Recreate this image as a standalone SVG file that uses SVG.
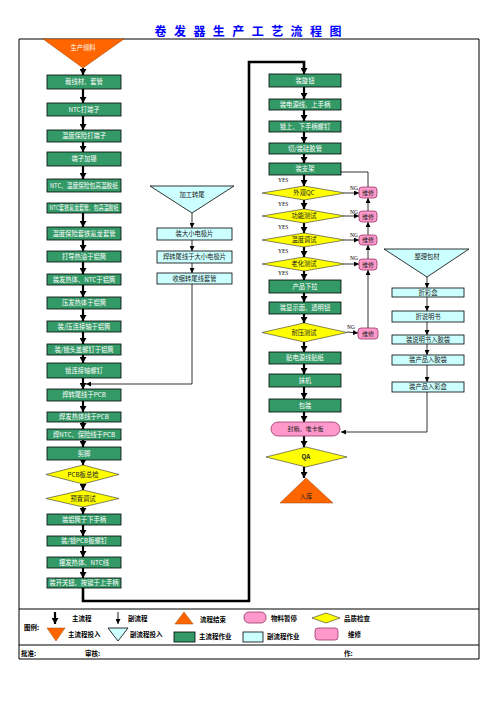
<svg xmlns="http://www.w3.org/2000/svg" width="496" height="702" viewBox="0 0 496 702">
<style>
text{font-family:"Noto Sans CJK SC","Noto Sans",sans-serif;}
.m{fill:#339966;stroke:#000;stroke-width:0.8;}
.mt{fill:#fff;font-size:6.3px;text-anchor:middle;}
.s{fill:#ccffff;stroke:#000;stroke-width:0.8;}
.st{fill:#222;font-size:6.3px;text-anchor:middle;}
.q{fill:#ffff00;stroke:#333;stroke-width:0.6;}
.qt{fill:#222;font-size:6.3px;text-anchor:middle;}
.p{fill:#ff99cc;stroke:#993366;stroke-width:0.8;}
.pt{fill:#222;font-size:6px;text-anchor:middle;}
.o{fill:#ff6600;stroke:#994400;stroke-width:0.5;}
.lbl{font-family:"Liberation Serif",serif;font-size:5.5px;fill:#000;}
.lg{font-size:6.5px;font-weight:bold;fill:#000;}
.fr{stroke:#000;stroke-width:1;fill:none;}
.ma{stroke:#000;stroke-width:2.2;fill:none;marker-end:url(#ah);}
.ta{stroke:#000;stroke-width:0.8;fill:none;marker-end:url(#at);}
.rl{stroke:#000;stroke-width:2.6;fill:none;}
</style>
<defs>
<marker id="ah" markerUnits="userSpaceOnUse" markerWidth="7" markerHeight="7" refX="6" refY="3.5" orient="auto"><path d="M0,0 L6,3.5 L0,7 z" fill="#000"/></marker>
<marker id="at" markerUnits="userSpaceOnUse" markerWidth="5" markerHeight="5" refX="5" refY="2.5" orient="auto"><path d="M0,0 L5,2.5 L0,5 z" fill="#000"/></marker>
</defs>
<rect width="496" height="702" fill="#fff"/>
<text x="248" y="36" font-size="12" font-weight="bold" fill="#0000ff" text-anchor="middle" textLength="187" lengthAdjust="spacing">卷 发 器 生 产 工 艺 流 程 图</text>
<g id="frame">
<line class="fr" x1="19" y1="39" x2="479" y2="39" stroke-width="1.4"/>
<line class="fr" x1="19" y1="39" x2="19" y2="659"/>
<line class="fr" x1="479" y1="39" x2="479" y2="659"/>
<line class="fr" x1="19" y1="609" x2="479" y2="609"/>
<line class="fr" x1="19" y1="645" x2="479" y2="645"/>
<line class="fr" x1="19" y1="659" x2="479" y2="659"/>
</g>
<g id="connectors">
<line class="ma" x1="83" y1="68" x2="83" y2="75"/>
<line class="ma" x1="83" y1="89" x2="83" y2="103"/>
<line class="ma" x1="83" y1="116" x2="83" y2="130"/>
<line class="ma" x1="83" y1="142" x2="83" y2="152"/>
<line class="ma" x1="83" y1="166" x2="83" y2="179"/>
<line class="ma" x1="83" y1="213" x2="83" y2="227"/>
<line class="ma" x1="83" y1="240" x2="83" y2="251"/>
<line class="ma" x1="83" y1="262" x2="83" y2="274"/>
<line class="ma" x1="83" y1="285" x2="83" y2="297"/>
<line class="ma" x1="83" y1="309" x2="83" y2="321"/>
<line class="ma" x1="83" y1="332" x2="83" y2="344"/>
<line class="ma" x1="83" y1="355" x2="83" y2="363"/>
<line class="ma" x1="83" y1="378" x2="83" y2="389"/>
<line class="ma" x1="83" y1="401" x2="83" y2="412"/>
<line class="ma" x1="83" y1="422" x2="83" y2="429"/>
<line class="ma" x1="83" y1="440" x2="83" y2="447"/>
<line class="ma" x1="83" y1="460" x2="83" y2="465"/>
<line class="ma" x1="83" y1="484" x2="83" y2="490"/>
<line class="ma" x1="83" y1="507" x2="83" y2="514"/>
<line class="ma" x1="83" y1="525" x2="83" y2="536"/>
<line class="ma" x1="83" y1="546" x2="83" y2="557"/>
<line class="ma" x1="83" y1="568" x2="83" y2="578"/>
<polyline class="rl" points="83,588 83,601 249,601 249,62 304,62 304,68"/>
<line class="ma" x1="304" y1="66" x2="304" y2="74"/>
<line class="ma" x1="304" y1="87" x2="304" y2="99"/>
<line class="ma" x1="304" y1="110" x2="304" y2="121"/>
<line class="ma" x1="304" y1="132" x2="304" y2="143"/>
<line class="ma" x1="304" y1="154" x2="304" y2="163"/>
<line class="ma" x1="304" y1="175" x2="304" y2="186"/>
<line class="ma" x1="304" y1="200" x2="304" y2="209"/>
<line class="ma" x1="304" y1="223" x2="304" y2="233"/>
<line class="ma" x1="304" y1="247" x2="304" y2="257"/>
<line class="ma" x1="304" y1="271" x2="304" y2="280"/>
<line class="ma" x1="304" y1="293" x2="304" y2="302"/>
<line class="ma" x1="304" y1="314" x2="304" y2="323"/>
<line class="ma" x1="304" y1="342" x2="304" y2="352"/>
<line class="ma" x1="304" y1="364" x2="304" y2="374"/>
<line class="ma" x1="304" y1="387" x2="304" y2="399"/>
<line class="ma" x1="304" y1="412" x2="304" y2="422"/>
<line class="ma" x1="304" y1="436" x2="304" y2="447"/>
<line class="ma" x1="304" y1="467" x2="304" y2="478"/>
<line class="ta" x1="345" y1="193" x2="359" y2="193"/>
<line class="ta" x1="345" y1="216" x2="359" y2="216"/>
<line class="ta" x1="345" y1="240" x2="359" y2="240"/>
<line class="ta" x1="345" y1="264" x2="359" y2="264"/>
<line class="ta" x1="347" y1="332" x2="358" y2="333"/>
<line class="ta" x1="368" y1="328" x2="368" y2="270"/>
<line class="ta" x1="368" y1="259" x2="368" y2="245"/>
<line class="ta" x1="368" y1="235" x2="368" y2="222"/>
<line class="ta" x1="368" y1="211" x2="368" y2="198"/>
<polyline class="ta" points="368,187 368,172 310,172"/>
<line class="ta" x1="192" y1="213" x2="192" y2="228"/>
<line class="ta" x1="192" y1="240" x2="192" y2="251"/>
<line class="ta" x1="192" y1="263" x2="192" y2="273"/>
<polyline class="ta" points="192,284 192,384 86,384"/>
<line class="ta" x1="427" y1="277" x2="427" y2="288"/>
<line class="ta" x1="427" y1="297" x2="427" y2="311"/>
<line class="ta" x1="427" y1="322" x2="427" y2="335"/>
<line class="ta" x1="427" y1="344" x2="427" y2="355"/>
<line class="ta" x1="427" y1="365" x2="427" y2="382"/>
<polyline class="ta" points="427,392 427,432 341,432"/>
</g>
<g id="n-start"><polygon class="o" points="43,39 124,39 83,68"/><text x="83" y="50" class="mt">生产领料</text></g>
<g id="n1"><rect class="m" x="47" y="75" width="74" height="14"/><text x="84" y="84.3" class="mt">裁线材、套管</text></g>
<g id="n2"><rect class="m" x="47" y="103" width="74" height="13"/><text x="84" y="111.8" class="mt">NTC打端子</text></g>
<g id="n3"><rect class="m" x="47" y="130" width="74" height="12"/><text x="84" y="138.3" class="mt">温度保险打端子</text></g>
<g id="n4"><rect class="m" x="47" y="152" width="74" height="14"/><text x="84" y="161.3" class="mt">端子加锡</text></g>
<g id="n5"><rect class="m" x="47" y="179" width="74" height="13"/><text x="84" y="187.8" class="mt" font-size="5.2" textLength="68" lengthAdjust="spacingAndGlyphs">NTC、温度保险包高温胶纸</text></g>
<g id="n6"><rect class="m" x="47" y="203" width="74" height="10"/><text x="84" y="210" class="mt" font-size="4.6" textLength="69" lengthAdjust="spacingAndGlyphs">NTC套铁氟龙套管、包高温胶纸</text></g>
<g id="n7"><rect class="m" x="47" y="227" width="74" height="13"/><text x="84" y="235.8" class="mt">温度保险套铁氟龙套管</text></g>
<g id="n8"><rect class="m" x="47" y="251" width="74" height="11"/><text x="84" y="258.8" class="mt">打导热油于铝筒</text></g>
<g id="n9"><rect class="m" x="47" y="274" width="74" height="11"/><text x="84" y="281.8" class="mt">装发热体、NTC于铝筒</text></g>
<g id="n10"><rect class="m" x="47" y="297" width="74" height="12"/><text x="84" y="305.3" class="mt">压发热体于铝筒</text></g>
<g id="n11"><rect class="m" x="47" y="321" width="74" height="11"/><text x="84" y="328.8" class="mt">装/压连接轴于铝筒</text></g>
<g id="n12"><rect class="m" x="47" y="344" width="74" height="11"/><text x="84" y="351.8" class="mt">装/锁头盖螺钉于铝筒</text></g>
<g id="n13"><rect class="m" x="47" y="363" width="74" height="15"/><text x="84" y="372.8" class="mt">锁连接轴螺钉</text></g>
<g id="n14"><rect class="m" x="47" y="389" width="74" height="12"/><text x="84" y="397.3" class="mt">焊转尾线于PCB</text></g>
<g id="n15"><rect class="m" x="47" y="412" width="74" height="10"/><text x="84" y="419.3" class="mt">焊发热体线于PCB</text></g>
<g id="n16"><rect class="m" x="47" y="429" width="74" height="11"/><text x="84" y="436.8" class="mt">焊NTC、保险线于PCB</text></g>
<g id="n17"><rect class="m" x="47" y="447" width="74" height="13"/><text x="84" y="455.8" class="mt">剪脚</text></g>
<g id="d1"><polygon class="q" points="46,474.5 83,465 119,474.5 83,484"/><text x="83" y="476.8" class="qt">PCB板总检</text></g>
<g id="d2"><polygon class="q" points="46,498.5 83,490 119,498.5 83,507"/><text x="83" y="500.8" class="qt">预置调试</text></g>
<g id="n18"><rect class="m" x="47" y="514" width="74" height="11"/><text x="84" y="521.8" class="mt">装铝筒于下手柄</text></g>
<g id="n19"><rect class="m" x="47" y="536" width="74" height="10"/><text x="84" y="543.3" class="mt">装/锁PCB板螺钉</text></g>
<g id="n20"><rect class="m" x="47" y="557" width="74" height="11"/><text x="84" y="564.8" class="mt">摆发热体、NTC线</text></g>
<g id="n21"><rect class="m" x="47" y="578" width="74" height="10"/><text x="84" y="585.3" class="mt" font-size="5.8">装开关钮、按键于上手柄</text></g>
<g id="s-start"><polygon class="s" points="150,186 234,186 192,213"/><text x="192" y="197" class="st">加工转尾</text></g>
<g id="s1"><rect class="s" x="157" y="228" width="75" height="12"/><text x="194.5" y="236.3" class="st">装大小电极片</text></g>
<g id="s2"><rect class="s" x="157" y="251" width="75" height="12"/><text x="194.5" y="259.3" class="st">焊转尾线于大小电极片</text></g>
<g id="s3"><rect class="s" x="157" y="273" width="75" height="11"/><text x="194.5" y="280.8" class="st">收缩转尾线套管</text></g>
<g id="r1"><rect class="m" x="269" y="74" width="72" height="13"/><text x="305" y="82.8" class="mt">装旋钮</text></g>
<g id="r2"><rect class="m" x="269" y="99" width="72" height="11"/><text x="305" y="106.8" class="mt">装电源线、上手柄</text></g>
<g id="r3"><rect class="m" x="269" y="121" width="72" height="11"/><text x="305" y="128.8" class="mt">锁上、下手柄螺钉</text></g>
<g id="r4"><rect class="m" x="269" y="143" width="72" height="11"/><text x="305" y="150.8" class="mt">切/装硅胶管</text></g>
<g id="r5"><rect class="m" x="269" y="163" width="72" height="12"/><text x="305" y="171.3" class="mt">装支架</text></g>
<g id="q1"><polygon class="q" points="262,193 304,186 345,193 304,200"/><text x="304" y="195.3" class="qt">外观QC</text></g>
<g id="q2"><polygon class="q" points="262,216 304,209 345,216 304,223"/><text x="304" y="218.3" class="qt">功能测试</text></g>
<g id="q3"><polygon class="q" points="262,240 304,233 345,240 304,247"/><text x="304" y="242.3" class="qt">温度调试</text></g>
<g id="q4"><polygon class="q" points="262,264 304,257 345,264 304,271"/><text x="304" y="266.3" class="qt">老化测试</text></g>
<g id="r6"><rect class="m" x="269" y="280" width="72" height="13"/><text x="305" y="288.8" class="mt">产品下拉</text></g>
<g id="r7"><rect class="m" x="269" y="302" width="72" height="12"/><text x="305" y="310.3" class="mt">装显示面、透明钮</text></g>
<g id="q5"><polygon class="q" points="262,332.5 304,323 347,332.5 304,342"/><text x="304" y="334.8" class="qt">耐压测试</text></g>
<g id="r8"><rect class="m" x="269" y="352" width="72" height="12"/><text x="305" y="360.3" class="mt">贴电源线贴纸</text></g>
<g id="r9"><rect class="m" x="269" y="374" width="72" height="13"/><text x="305" y="382.8" class="mt">抹机</text></g>
<g id="r10"><rect class="m" x="269" y="399" width="72" height="13"/><text x="305" y="407.8" class="mt">包装</text></g>
<g id="pk"><rect class="p" x="271" y="422" width="69" height="14" rx="7" stroke="#333"/><text x="305.5" y="431.3" class="pt" font-size="6.3">封箱、堆卡板</text></g>
<g id="qa"><polygon class="q" points="266,457 306,447 347,457 306,467"/><text x="306" y="459.3" class="qt" font-weight="bold" font-family="Liberation Sans">QA</text></g>
<g id="end"><polygon class="o" points="306,478 333,503 280,503"/><text x="306" y="499" class="qt">入库</text></g>
<g id="w1"><rect class="p" x="359" y="187" width="18" height="11" rx="3"/><text x="368" y="194.8" class="pt">维修</text></g>
<g id="w2"><rect class="p" x="359" y="211" width="18" height="11" rx="3"/><text x="368" y="218.8" class="pt">维修</text></g>
<g id="w3"><rect class="p" x="359" y="235" width="18" height="10" rx="3"/><text x="368" y="242.3" class="pt">维修</text></g>
<g id="w4"><rect class="p" x="359" y="259" width="18" height="11" rx="3"/><text x="368" y="266.8" class="pt">维修</text></g>
<g id="w5"><rect class="p" x="358" y="328" width="20" height="11" rx="3"/><text x="368" y="335.8" class="pt">维修</text></g>
<g id="labels">
<text x="278" y="182" class="lbl">YES</text>
<text x="278" y="206" class="lbl">YES</text>
<text x="278" y="229" class="lbl">YES</text>
<text x="278" y="253" class="lbl">YES</text>
<text x="278" y="275" class="lbl">YES</text>
<text x="350" y="190" class="lbl">NG</text>
<text x="350" y="214" class="lbl">NG</text>
<text x="350" y="237" class="lbl">NG</text>
<text x="350" y="260" class="lbl">NG</text>
<text x="347" y="329" class="lbl">NG</text>
</g>
<g id="b-start"><polygon class="s" points="384,249 469,249 427,277"/><text x="427" y="259" class="st">整理包材</text></g>
<g id="b1"><rect class="s" x="392" y="288" width="72" height="9"/><text x="428" y="294.8" class="st">折彩盒</text></g>
<g id="b2"><rect class="s" x="392" y="311" width="72" height="11"/><text x="428" y="318.8" class="st">折说明书</text></g>
<g id="b3"><rect class="s" x="392" y="335" width="72" height="9"/><text x="428" y="341.8" class="st">装说明书入胶袋</text></g>
<g id="b4"><rect class="s" x="392" y="355" width="72" height="10"/><text x="428" y="362.3" class="st">装产品入胶袋</text></g>
<g id="b5"><rect class="s" x="392" y="382" width="72" height="10"/><text x="428" y="389.3" class="st">装产品入彩盒</text></g>
<g id="legend">
<text x="24" y="630" class="lg">图例:</text>
<line x1="55" y1="612" x2="55" y2="624" stroke="#000" stroke-width="2.2" marker-end="url(#ah)"/>
<text x="72" y="621" class="lg">主流程</text>
<line x1="118" y1="612" x2="118" y2="624" stroke="#000" stroke-width="0.9" marker-end="url(#at)"/>
<text x="128" y="621" class="lg">副流程</text>
<polygon class="o" points="184,612 193,624 175,624"/>
<text x="200" y="622" class="lg">流程结束</text>
<rect class="p" x="244" y="612" width="22" height="11" rx="5"/>
<text x="271" y="620.5" class="lg">物料暂停</text>
<polygon class="q" points="312,618 326,613 340,618 326,623"/>
<text x="344" y="620.5" class="lg">品质检查</text>
<polygon class="o" points="47,628 65,628 56,641"/>
<text x="68" y="637" class="lg">主流程投入</text>
<polygon class="s" points="108,628 128,628 118,641"/>
<text x="130" y="637" class="lg">副流程投入</text>
<rect class="m" x="174" y="632" width="21" height="10"/>
<text x="199" y="639" class="lg">主流程作业</text>
<rect class="s" x="243" y="632" width="20" height="10"/>
<text x="267" y="638.5" class="lg">副流程作业</text>
<rect class="p" x="315" y="628" width="23" height="12" rx="3"/>
<text x="348" y="636.5" class="lg">维修</text>
<text x="21" y="656" class="lg">批准:</text>
<text x="85" y="656" class="lg">审核:</text>
<text x="344" y="656" class="lg">作:</text>
</g>
</svg>
